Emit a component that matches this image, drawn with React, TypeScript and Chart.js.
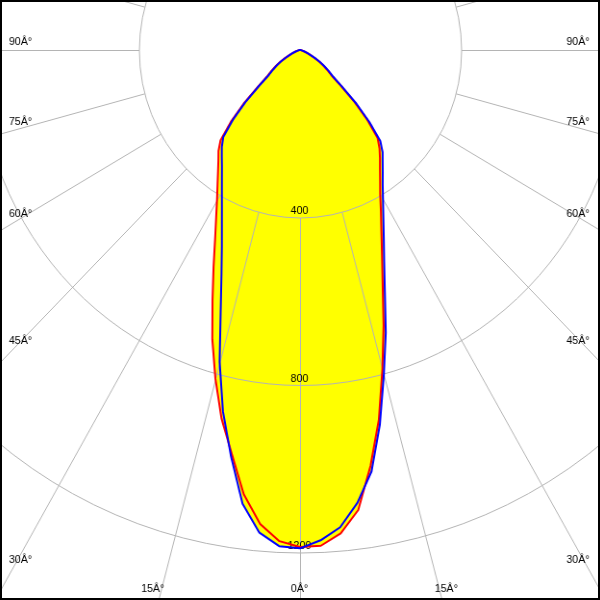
import { useEffect, useRef } from "react";
import { Chart, registerables } from "chart.js";

Chart.register(...registerables);

// Gamma angles (degrees from nadir), 2.5° steps
const gammaDeg = [
  0, 2.5, 5, 7.5, 10, 12.5, 15, 17.5, 20, 22.5, 25, 27.5, 30, 32.5, 35, 37.5, 40, 42.5,
  45, 47.5, 50, 52.5, 55, 57.5, 60, 62.5, 65, 67.5, 70, 72.5, 75, 77.5, 80, 82.5, 85, 87.5, 90,
];

// Luminous intensity (cd) — red plane (C0 right half, C180 left half)
const redC0 = [
  1187, 1185, 1159, 1108, 1008, 904, 790, 690, 600, 532, 478, 435, 398, 370, 346, 326, 307, 285,
  237, 184, 131, 97, 82, 68, 54, 40, 28, 20, 14, 9, 6, 3, 2, 1, 0, 0, 0,
];
const redC180 = [
  1187, 1174, 1136, 1070, 978, 901, 812, 724, 635, 561, 499, 451, 412, 381, 355, 333, 315, 292,
  243, 190, 136, 101, 86, 71, 57, 42, 30, 21, 15, 10, 6, 4, 2, 1, 0, 0, 0,
];
// Blue plane (C90 right half, C270 left half)
const blueC90 = [
  1190, 1172, 1144, 1091, 1022, 916, 804, 708, 616, 546, 492, 448, 412, 382, 358, 337, 319, 295,
  244, 190, 136, 101, 86, 71, 57, 42, 30, 21, 15, 10, 6, 4, 2, 1, 0, 0, 0,
];
const blueC270 = [
  1190, 1186, 1157, 1093, 986, 884, 771, 655, 570, 507, 459, 420, 388, 361, 338, 319, 302, 282,
  236, 184, 131, 97, 82, 68, 54, 40, 28, 20, 14, 9, 6, 3, 2, 1, 0, 0, 0,
];

const ringValues = [400, 800, 1200];
const ringLabels = ["400", "800", "1200"];
const sideAngles = [90, 75, 60, 45, 30];
const sideLabels = ["90Â°", "75Â°", "60Â°", "45Â°", "30Â°"];
const bottomAngles = [15, 0, -15];
const bottomLabels = ["15Â°", "0Â°", "15Â°"];

// ---- layout constants ----
const STEP = 2.5;
const N = Math.round(360 / STEP);
const CANVAS = 2000;
const HALF = CANVAS / 2;
const K = 0.962; // horizontal squeeze of the diagram
const PX_PER_CD = 0.41875;
const R_MAX = HALF / PX_PER_CD;
const CX = 300.5; // pole position inside the 600x600 frame
const CY = 50.5;
const BORDER = 2;
const LEFT_PAGE = CX - (HALF + 0.5) * K;
const TOP_PAGE = CY - (HALF + 0.5);

const GRID_COLOR = "#b4b4b4";
const FONT = '11px "Liberation Sans", Arial, sans-serif';

const angleLabels = Array.from({ length: N }, (_, i) => String(i * STEP));

function fullCircle(right: number[], left: number[]): number[] {
  const out: number[] = new Array(N).fill(0);
  gammaDeg.forEach((g, k) => {
    const idx = Math.round(g / STEP);
    out[idx] = left[k];
    if (k > 0) out[(N - idx) % N] = right[k];
  });
  return out;
}

const toCanvasX = (xp: number) => (xp - LEFT_PAGE) / K;
const toCanvasY = (yp: number) => yp - TOP_PAGE;

function angleIndex(theta: number) {
  // positive theta -> left side (index grows clockwise from nadir)
  const idx = Math.round(Math.abs(theta) / STEP);
  return theta >= 0 ? idx : (N - idx) % N;
}

const polarGrid = {
  id: "polarGrid",
  afterDatasetDraw(chart: any, args: any) {
    if (args.index !== 1) return;
    const s = chart.scales.r;
    const ctx = chart.ctx as CanvasRenderingContext2D;
    const cx = s.xCenter;
    const cy = s.yCenter;

    ctx.save();
    ctx.translate(0.5, 0.5);
    ctx.strokeStyle = GRID_COLOR;
    ctx.lineWidth = 1;
    for (const v of ringValues) {
      const r = s.getDistanceFromCenterForValue(v);
      ctx.beginPath();
      ctx.arc(cx, cy, r, 0, Math.PI * 2);
      ctx.stroke();
    }
    const r0 = s.getDistanceFromCenterForValue(ringValues[0]);
    const rOut = s.drawingArea;
    ctx.beginPath();
    for (let i = 0; i < N; i += Math.round(15 / STEP)) {
      const a = s.getPointPosition(i, r0);
      const b = s.getPointPosition(i, rOut);
      ctx.moveTo(a.x, a.y);
      ctx.lineTo(b.x, b.y);
    }
    ctx.stroke();
    ctx.restore();

    // labels
    ctx.save();
    ctx.font = FONT;
    ctx.fillStyle = "#000";
    ctx.textBaseline = "middle";

    const dirPage = (theta: number) => {
      const p = s.getPointPosition(angleIndex(theta), 100);
      return { dx: (p.x - cx) * K, dy: p.y - cy };
    };

    // ring values
    ctx.textAlign = "center";
    ringValues.forEach((v, i) => {
      const r = s.getDistanceFromCenterForValue(v);
      ctx.fillText(ringLabels[i], toCanvasX(CX - 1), toCanvasY(CY + r - 7));
    });

    // side angle labels
    sideAngles.forEach((a, i) => {
      // left
      const dl = dirPage(a);
      const tl = (12.5 - CX) / dl.dx;
      const yl = CY + tl * dl.dy - 9;
      ctx.textAlign = "left";
      ctx.fillText(sideLabels[i], toCanvasX(9), toCanvasY(yl));
      // right
      const dr = dirPage(-a);
      const tr = (588.5 - CX) / dr.dx;
      const yr = CY + tr * dr.dy - 9;
      ctx.textAlign = "right";
      ctx.fillText(sideLabels[i], toCanvasX(589.5), toCanvasY(yr));
    });

    // bottom angle labels
    ctx.textAlign = "center";
    bottomAngles.forEach((a, i) => {
      const d = dirPage(a);
      const t = (620 - CY) / d.dy;
      const x = CX + t * d.dx - 1;
      ctx.fillText(bottomLabels[i], toCanvasX(x), toCanvasY(588.5));
    });
    ctx.restore();
  },
};

export default function App() {
  const ref = useRef<HTMLCanvasElement | null>(null);

  useEffect(() => {
    if (!ref.current) return;
    const red = fullCircle(redC0, redC180);
    const blue = fullCircle(blueC90, blueC270);
    const chart = new Chart(ref.current, {
      type: "radar",
      data: {
        labels: angleLabels,
        datasets: [
          {
            label: "fill C0-C180",
            data: red,
            fill: true,
            backgroundColor: "#ffff00",
            borderColor: "rgba(0,0,0,0)",
            borderWidth: 0,
            pointRadius: 0,
            order: 4,
          },
          {
            label: "fill C90-C270",
            data: blue,
            fill: true,
            backgroundColor: "#ffff00",
            borderColor: "rgba(0,0,0,0)",
            borderWidth: 0,
            pointRadius: 0,
            order: 3,
          },
          {
            label: "C0-C180",
            data: red,
            fill: false,
            borderColor: "#ff0000",
            borderWidth: 2,
            pointRadius: 0,
            borderJoinStyle: "round",
            order: 2,
          },
          {
            label: "C90-C270",
            data: blue,
            fill: false,
            borderColor: "#0000ff",
            borderWidth: 2,
            pointRadius: 0,
            borderJoinStyle: "round",
            order: 1,
          },
        ],
      },
      options: {
        responsive: false,
        animation: false,
        devicePixelRatio: 1,
        layout: { padding: 0 },
        elements: { line: { tension: 0 }, point: { radius: 0, hitRadius: 0 } },
        plugins: { legend: { display: false }, tooltip: { enabled: false } },
        events: [],
        scales: {
          r: {
            min: 0,
            max: R_MAX,
            startAngle: 180,
            ticks: { display: false },
            grid: { display: false },
            angleLines: { display: false },
            pointLabels: { display: false },
          },
        },
      } as any,
      plugins: [polarGrid as any],
    });
    return () => chart.destroy();
  }, []);

  return (
    <div
      style={{
        position: "fixed",
        left: 0,
        top: 0,
        width: 600,
        height: 600,
        boxSizing: "border-box",
        border: `${BORDER}px solid #000`,
        overflow: "hidden",
        background: "#fff",
      }}
    >
      <canvas
        ref={ref}
        width={CANVAS}
        height={CANVAS}
        style={{
          position: "absolute",
          left: `${LEFT_PAGE - BORDER}px`,
          top: `${TOP_PAGE - BORDER}px`,
          width: `${CANVAS * K}px`,
          height: `${CANVAS}px`,
        }}
      />
    </div>
  );
}
